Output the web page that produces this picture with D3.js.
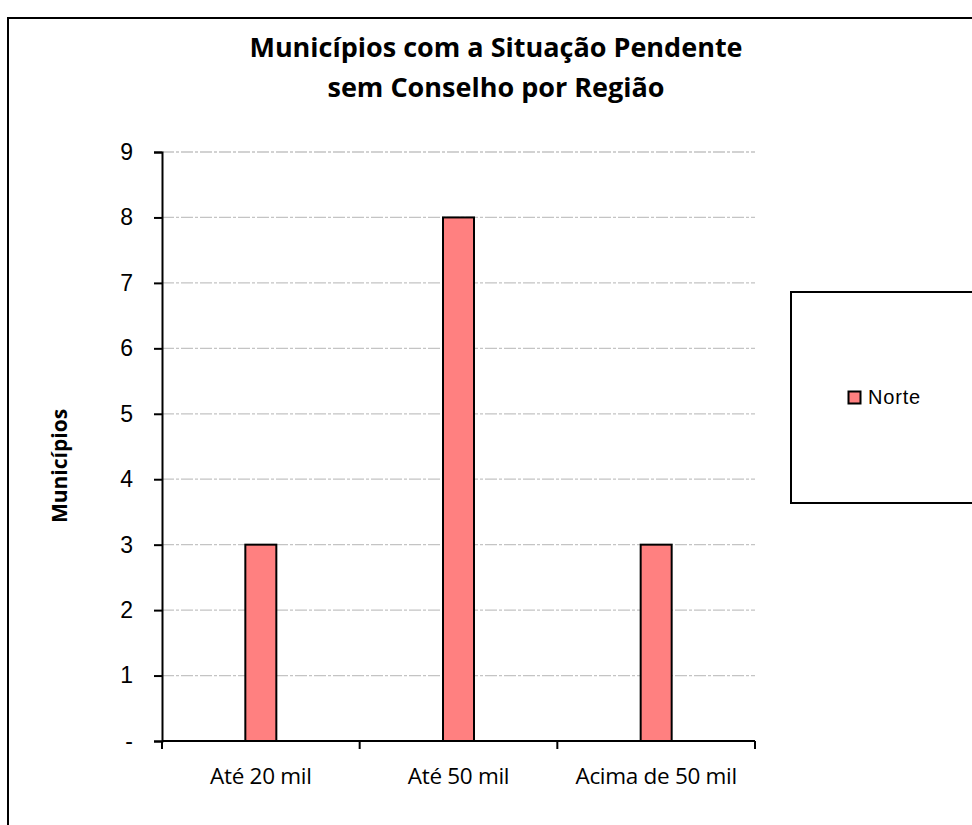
<!DOCTYPE html>
<html>
<head>
<meta charset="utf-8">
<script src="https://cdn.jsdelivr.net/npm/d3@7/dist/d3.min.js"></script>
<style>
  body { margin: 0; background: #fff; }
</style>
</head>
<body>
<script>
const categories = ["Até 20 mil", "Até 50 mil", "Acima de 50 mil"];
const norte = [3, 8, 3];
const yTicks = [0, 1, 2, 3, 4, 5, 6, 7, 8, 9];
const yTickLabels = ["-", "1", "2", "3", "4", "5", "6", "7", "8", "9"];
const seriesName = "Norte";
const titleLines = ["Municípios com a Situação Pendente", "sem Conselho por Região"];

const width = 972, height = 825;
const plotLeft = 162, plotRight = 755, plotTop = 152, plotBottom = 741;
const narrow = "'Open Sans', sans-serif";
const arial = "'Liberation Sans', Arial, sans-serif";

const svg = d3.select("body").append("svg")
    .attr("width", width)
    .attr("height", height);

// outer chart border
svg.append("rect")
    .attr("x", 8).attr("y", 18)
    .attr("width", 990).attr("height", 830)
    .attr("fill", "#fff")
    .attr("stroke", "#000")
    .attr("stroke-width", 2);

const x = d3.scaleBand()
    .domain(categories)
    .range([plotLeft, plotRight]);

const y = d3.scaleLinear()
    .domain([0, 9])
    .range([plotBottom, plotTop]);

// gridlines
svg.append("g")
    .selectAll("line")
    .data(yTicks.filter(d => d > 0))
    .join("line")
    .attr("x1", plotLeft).attr("x2", plotRight)
    .attr("y1", d => y(d)).attr("y2", d => y(d))
    .attr("stroke", "#c4c4c4")
    .attr("stroke-width", 1.3)
    .attr("stroke-dasharray", "12,2,3,2");

// bars
const barW = 31;
svg.append("g")
    .selectAll("rect")
    .data(norte)
    .join("rect")
    .attr("x", (d, i) => x(categories[i]) + x.bandwidth() / 2 - barW / 2)
    .attr("y", d => y(d))
    .attr("width", barW)
    .attr("height", d => y(0) - y(d))
    .attr("fill", "#ff8080")
    .attr("stroke", "#000")
    .attr("stroke-width", 2);

// y axis
const yAxis = d3.axisLeft(y)
    .tickValues(yTicks)
    .tickFormat((d, i) => yTickLabels[i])
    .tickSize(8)
    .tickPadding(21);

const gy = svg.append("g")
    .attr("transform", `translate(${plotLeft},0)`)
    .call(yAxis);
gy.select(".domain").attr("stroke-width", 2);
gy.selectAll(".tick line").attr("stroke-width", 2);
gy.selectAll("text")
    .attr("font-family", arial)
    .attr("font-size", 23)
    .attr("fill", "#000");

// x axis
const xLin = d3.scaleLinear().domain([0, categories.length]).range([plotLeft, plotRight]);
const gx = svg.append("g")
    .attr("transform", `translate(0,${plotBottom})`);
gx.append("line")
    .attr("x1", plotLeft).attr("x2", plotRight)
    .attr("stroke", "#000").attr("stroke-width", 2);
gx.selectAll("line.tk")
    .data(d3.range(categories.length + 1))
    .join("line")
    .attr("class", "tk")
    .attr("x1", d => xLin(d)).attr("x2", d => xLin(d))
    .attr("y1", 0).attr("y2", 8)
    .attr("stroke", "#000").attr("stroke-width", 2);
gx.selectAll("text")
    .data(categories)
    .join("text")
    .attr("x", d => x(d) + x.bandwidth() / 2)
    .attr("y", 43)
    .attr("text-anchor", "middle")
    .attr("font-family", narrow)
    .attr("font-size", 22.5)
    .attr("letter-spacing", -0.3)
    .text(d => d);

// title
svg.append("g")
    .selectAll("text")
    .data(titleLines)
    .join("text")
    .attr("x", 496)
    .attr("y", (d, i) => 57 + i * 40)
    .attr("text-anchor", "middle")
    .attr("font-family", narrow)
    .attr("font-weight", "bold")
    .attr("font-size", 27)
    .text(d => d);

// y axis title
svg.append("text")
    .attr("transform", "translate(67,466) rotate(-90)")
    .attr("text-anchor", "middle")
    .attr("font-family", narrow)
    .attr("font-weight", "bold")
    .attr("font-size", 21)
    .text("Municípios");

// legend
svg.append("rect")
    .attr("x", 791).attr("y", 292)
    .attr("width", 200).attr("height", 211)
    .attr("fill", "#fff")
    .attr("stroke", "#000")
    .attr("stroke-width", 2);
svg.append("rect")
    .attr("x", 848.5).attr("y", 391.5)
    .attr("width", 12).attr("height", 12)
    .attr("fill", "#ff8080")
    .attr("stroke", "#000")
    .attr("stroke-width", 2);
svg.append("text")
    .attr("x", 868).attr("y", 404)
    .attr("font-family", arial)
    .attr("font-size", 20)
    .attr("letter-spacing", 0.8)
    .text(seriesName);
</script>
</body>
</html>
